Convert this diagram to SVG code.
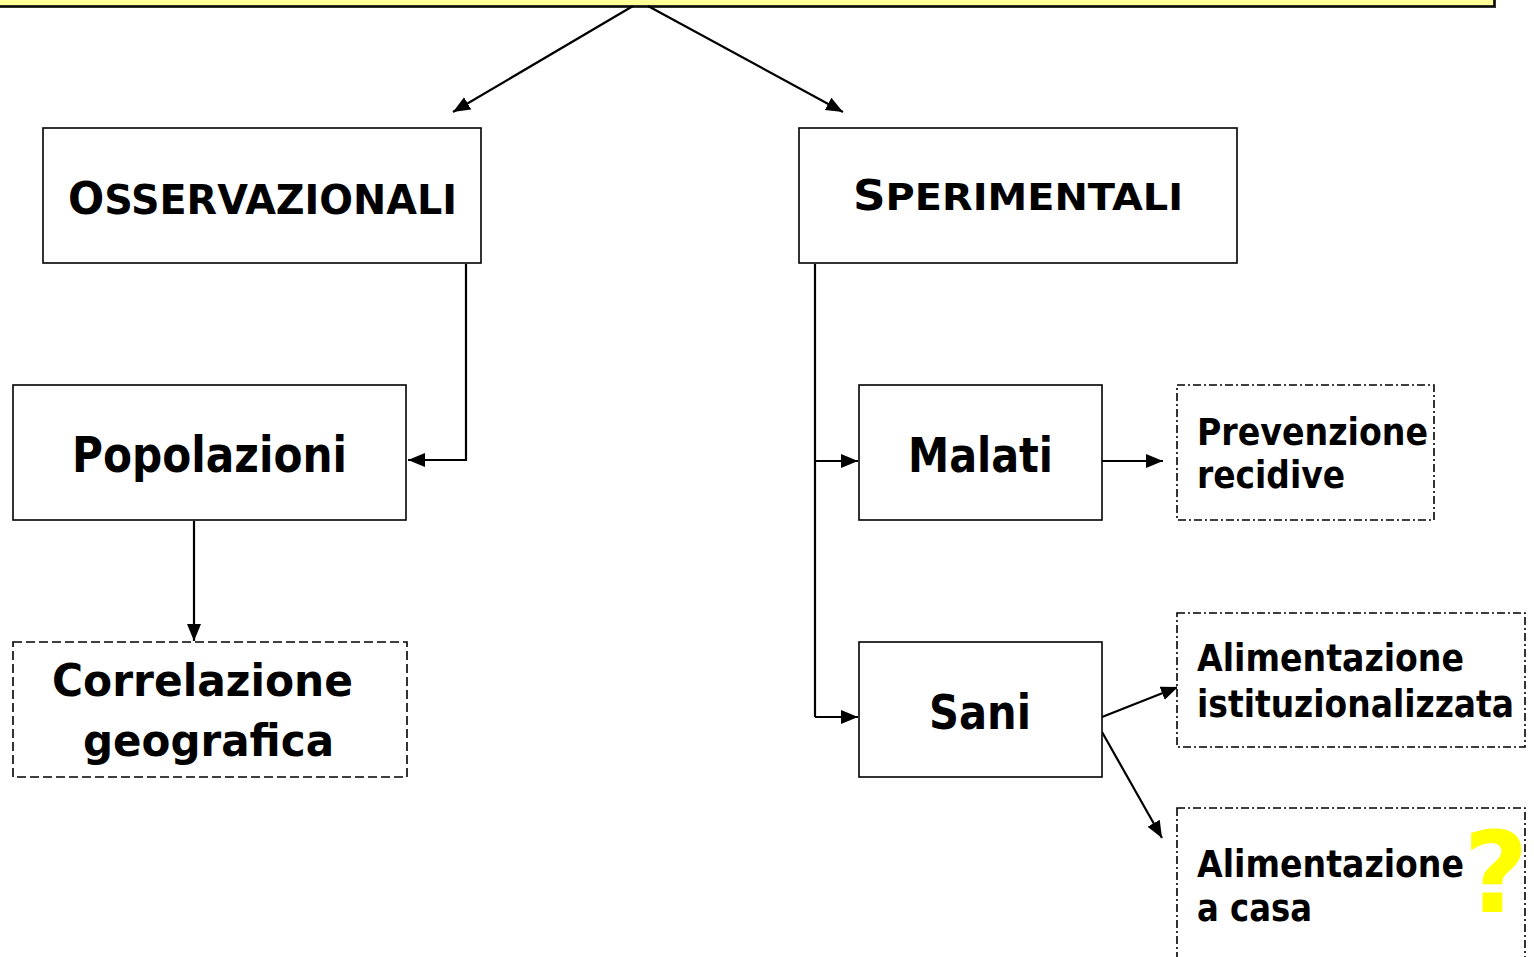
<svg xmlns="http://www.w3.org/2000/svg" width="1534" height="957" viewBox="0 0 1534 957">
<style>
.box{fill:#fff;stroke:#000;stroke-width:1.6}
.dash{fill:#fff;stroke:#000;stroke-width:1.6;stroke-dasharray:9 4}
.dashdot{fill:#fff;stroke:#000;stroke-width:1.6;stroke-dasharray:8 3 2 3}
.t{font-family:"DejaVu Sans","Verdana",sans-serif;font-weight:bold;fill:#000}
.c{fill:none;stroke:#000;stroke-width:2.2}
</style>
<defs>
<marker id="ah" markerUnits="userSpaceOnUse" markerWidth="20" markerHeight="16" refX="17" refY="7" orient="auto">
<path d="M0,0 L17,7 L0,14 z" fill="#000"/>
</marker>
</defs>
<g id="top">
<rect x="-8" y="-48" width="1504" height="56" fill="#333"/>
<rect x="-10" y="-50" width="1504" height="56" fill="#FFFF99" stroke="#000" stroke-width="1.6"/>
</g>
<g id="connectors">
<line class="c" x1="633" y1="6" x2="453" y2="112" marker-end="url(#ah)"/>
<line class="c" x1="648" y1="6" x2="843" y2="112" marker-end="url(#ah)"/>
<polyline class="c" points="466,264 466,460 408,460" marker-end="url(#ah)"/>
<line class="c" x1="194" y1="521" x2="194" y2="641" marker-end="url(#ah)"/>
<line class="c" x1="815" y1="264" x2="815" y2="717"/>
<line class="c" x1="815" y1="461" x2="858" y2="461" marker-end="url(#ah)"/>
<line class="c" x1="815" y1="717" x2="858" y2="717" marker-end="url(#ah)"/>
<line class="c" x1="1102" y1="461" x2="1163" y2="461" marker-end="url(#ah)"/>
<line class="c" x1="1102" y1="717" x2="1178" y2="687" marker-end="url(#ah)"/>
<line class="c" x1="1102" y1="732" x2="1162" y2="838" marker-end="url(#ah)"/>
</g>
<g id="osservazionali">
<rect class="box" x="43" y="128" width="438" height="135"/>
<text class="t" x="68" y="214" textLength="389" lengthAdjust="spacingAndGlyphs"><tspan font-size="44">O</tspan><tspan font-size="41">SSERVAZIONALI</tspan></text>
</g>
<g id="sperimentali">
<rect class="box" x="799" y="128" width="438" height="135"/>
<text class="t" x="853" y="210" textLength="330" lengthAdjust="spacingAndGlyphs"><tspan font-size="42">S</tspan><tspan font-size="37">PERIMENTALI</tspan></text>
</g>
<g id="popolazioni">
<rect class="box" x="13" y="385" width="393" height="135"/>
<text class="t" x="72" y="472" font-size="49" textLength="275" lengthAdjust="spacingAndGlyphs">Popolazioni</text>
</g>
<g id="correlazione">
<rect class="dash" x="13" y="642" width="394" height="135"/>
<text class="t" x="52" y="696" font-size="45" textLength="301" lengthAdjust="spacingAndGlyphs">Correlazione</text>
<text class="t" x="83" y="756" font-size="45" textLength="251" lengthAdjust="spacingAndGlyphs">geografica</text>
</g>
<g id="malati">
<rect class="box" x="859" y="385" width="243" height="135"/>
<text class="t" x="908" y="472" font-size="48" textLength="145" lengthAdjust="spacingAndGlyphs">Malati</text>
</g>
<g id="sani">
<rect class="box" x="859" y="642" width="243" height="135"/>
<text class="t" x="929" y="729" font-size="48" textLength="102" lengthAdjust="spacingAndGlyphs">Sani</text>
</g>
<g id="prevenzione">
<rect class="dashdot" x="1177" y="385" width="257" height="135"/>
<text class="t" x="1197" y="445" font-size="37" textLength="231" lengthAdjust="spacingAndGlyphs">Prevenzione</text>
<text class="t" x="1197" y="488" font-size="37" textLength="148" lengthAdjust="spacingAndGlyphs">recidive</text>
</g>
<g id="istituzionalizzata">
<rect class="dashdot" x="1177" y="613" width="348" height="134"/>
<text class="t" x="1197" y="671" font-size="37" textLength="267" lengthAdjust="spacingAndGlyphs">Alimentazione</text>
<text class="t" x="1197" y="717" font-size="37" textLength="317" lengthAdjust="spacingAndGlyphs">istituzionalizzata</text>
</g>
<g id="casa">
<rect class="dashdot" x="1177" y="808" width="348" height="160"/>
<text class="t" x="1197" y="877" font-size="37" textLength="267" lengthAdjust="spacingAndGlyphs">Alimentazione</text>
<text class="t" x="1197" y="921" font-size="37" textLength="115" lengthAdjust="spacingAndGlyphs">a casa</text>
<text class="t" x="1496" y="912" font-size="112" text-anchor="middle" style="fill:#FFFF00">?</text>
</g>
</svg>
